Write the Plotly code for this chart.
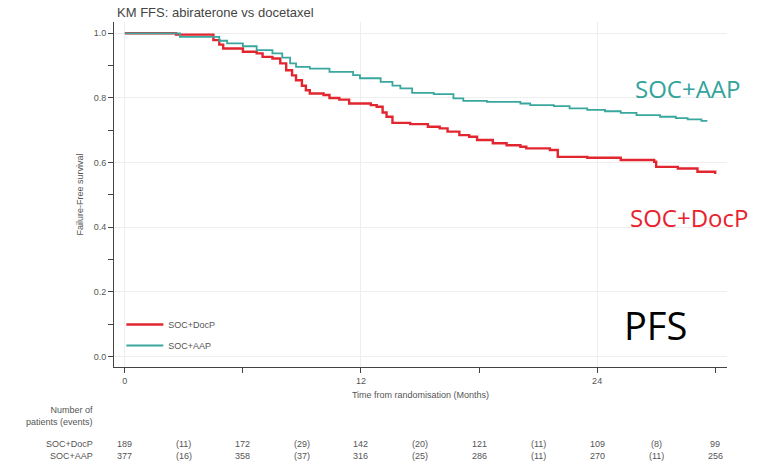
import plotly.graph_objects as go

# ---- data ----
docp_t = [0, 2.6, 4.5, 4.8, 5.0, 6.0, 6.7, 7.0, 7.5, 7.9, 8.2, 8.5, 8.7, 9.0, 9.2, 9.4,
          10.1, 10.4, 10.9, 11.4, 12.5, 12.8, 13.1, 13.3, 13.6, 14.5, 15.4, 16.0, 16.4,
          17.0, 17.5, 17.9, 18.7, 19.4, 20.1, 20.4, 21.6, 22.0, 23.5, 25.2, 26.9, 27.0,
          28.1, 29.1, 30.0]
docp_s = [1.0, 0.996, 0.979, 0.965, 0.953, 0.943, 0.938, 0.927, 0.922, 0.907, 0.886, 0.870,
          0.855, 0.838, 0.824, 0.814, 0.809, 0.800, 0.795, 0.783, 0.778, 0.773, 0.755, 0.742,
          0.723, 0.719, 0.711, 0.706, 0.696, 0.685, 0.680, 0.670, 0.660, 0.654, 0.649, 0.644,
          0.639, 0.618, 0.615, 0.608, 0.603, 0.587, 0.582, 0.572, 0.565]

aap_t = [0, 2.8, 4.8, 5.2, 6.0, 6.7, 7.5, 8.0, 8.4, 8.7, 9.4, 10.4, 11.6, 11.95, 13.0, 13.6,
         14.0, 14.6, 15.7, 16.7, 17.2, 18.4, 20.1, 20.6, 21.8, 22.6, 23.5, 24.4, 25.2, 26.0,
         27.2, 28.0, 28.6, 29.3, 29.6]
aap_s = [1.0, 0.989, 0.977, 0.969, 0.960, 0.948, 0.938, 0.925, 0.907, 0.896, 0.891, 0.881,
         0.871, 0.861, 0.850, 0.838, 0.830, 0.816, 0.812, 0.799, 0.791, 0.788, 0.783, 0.778,
         0.775, 0.768, 0.763, 0.759, 0.754, 0.747, 0.742, 0.738, 0.734, 0.729, 0.729]

risk_months = [0, 3, 6, 9, 12, 15, 18, 21, 24, 27, 30]
risk_docp = ["189", "(11)", "172", "(29)", "142", "(20)", "121", "(11)", "109", "(8)", "99"]
risk_aap = ["377", "(16)", "358", "(37)", "316", "(25)", "286", "(11)", "270", "(11)", "256"]

x_major = [0, 12, 24]
x_minor = [6, 18, 30]
y_major = [0.0, 0.2, 0.4, 0.6, 0.8, 1.0]
y_minor = [0.1, 0.3, 0.5, 0.7, 0.9]

RED = "#e2262f"
TEAL = "#3aa79e"
GREY = "#555555"
FONT = "Liberation Sans, Arial, sans-serif"

fig = go.Figure()
fig.add_trace(go.Scatter(x=docp_t, y=docp_s, mode="lines", line_shape="hv",
                         line=dict(color=RED, width=2.4), name="SOC+DocP",
                         legendgroup="a"))
fig.add_trace(go.Scatter(x=aap_t, y=aap_s, mode="lines", line_shape="hv",
                         line=dict(color=TEAL, width=1.8), name="SOC+AAP",
                         legendgroup="b"))

# pixel helpers for layout (plot area: top 22, bottom 367)
def py(p):
    return (367 - p) / 345.0

annotations = []
annotations.append(dict(text="Number of<br>patients (events)", xref="paper", yref="paper",
                        x=-0.031, y=py(416), xanchor="right", yanchor="middle",
                        align="right", showarrow=False, font=dict(size=9, color=GREY)))
annotations.append(dict(text="SOC+DocP", xref="paper", yref="paper", x=-0.031, y=py(444),
                        xanchor="right", yanchor="middle", showarrow=False,
                        font=dict(size=9, color=GREY)))
annotations.append(dict(text="SOC+AAP", xref="paper", yref="paper", x=-0.031, y=py(456),
                        xanchor="right", yanchor="middle", showarrow=False,
                        font=dict(size=9, color=GREY)))
for m, a, b in zip(risk_months, risk_docp, risk_aap):
    annotations.append(dict(text=a, xref="x", yref="paper", x=m, y=py(444),
                            xanchor="center", yanchor="middle", showarrow=False,
                            font=dict(size=9, color=GREY)))
    annotations.append(dict(text=b, xref="x", yref="paper", x=m, y=py(456),
                            xanchor="center", yanchor="middle", showarrow=False,
                            font=dict(size=9, color=GREY)))

BIG = "Open Sans, Noto Sans, sans-serif"
annotations.append(dict(text="SOC+AAP", xref="paper", yref="paper", x=0.936, y=py(89),
                        xanchor="center", yanchor="middle", showarrow=False,
                        font=dict(family=BIG, size=24, color="#33a39b")))
annotations.append(dict(text="SOC+DocP", xref="paper", yref="paper", x=0.938, y=py(217),
                        xanchor="center", yanchor="middle", showarrow=False,
                        font=dict(family=BIG, size=24, color="#e8232d")))
annotations.append(dict(text="PFS", xref="paper", yref="paper", x=0.884, y=py(325),
                        xanchor="center", yanchor="middle", showarrow=False,
                        font=dict(family=BIG, size=38, color="#000000")))

fig.update_layout(
    width=758, height=471,
    margin=dict(l=114, r=31, t=22, b=104),
    plot_bgcolor="white", paper_bgcolor="white",
    font=dict(family=FONT, size=9, color=GREY),
    title=dict(text="KM FFS: abiraterone vs docetaxel", x=0.005, xref="paper",
               xanchor="left", y=1 - 12 / 471, yref="container", yanchor="middle",
               font=dict(family=FONT, size=13, color="#444444")),
    showlegend=True,
    legend=dict(x=0.012, y=py(310), xanchor="left", yanchor="top",
                bgcolor="rgba(0,0,0,0)", font=dict(size=9, color=GREY),
                traceorder="grouped", tracegroupgap=2, itemwidth=37),
    annotations=annotations,
)
fig.update_xaxes(range=[-0.55, 30.6], tickvals=x_major, ticktext=[str(v) for v in x_major],
                 ticks="outside", ticklen=5, tickcolor="#444", showline=True,
                 linecolor="#444", linewidth=1, showgrid=True, gridcolor="#eeeeee",
                 zeroline=False, tickfont=dict(size=9, color=GREY),
                 title=dict(text="Time from randomisation (Months)", standoff=6,
                            font=dict(size=9, color=GREY)),
                 minor=dict(tickvals=x_minor, ticks="outside", ticklen=5,
                            tickcolor="#444", showgrid=False))
fig.update_yaxes(range=[-0.032, 1.035], tickvals=y_major, tickformat=".1f",
                 ticks="outside", ticklen=5, tickcolor="#444", showline=True,
                 linecolor="#444", linewidth=1, showgrid=True, gridcolor="#eeeeee",
                 zeroline=False, tickfont=dict(size=9, color=GREY),
                 title=dict(text="Failure-Free survival", standoff=8,
                            font=dict(size=9, color=GREY)),
                 minor=dict(tickvals=y_minor, ticks="outside", ticklen=5,
                            tickcolor="#444", showgrid=False))

fig.write_html("out.html")
